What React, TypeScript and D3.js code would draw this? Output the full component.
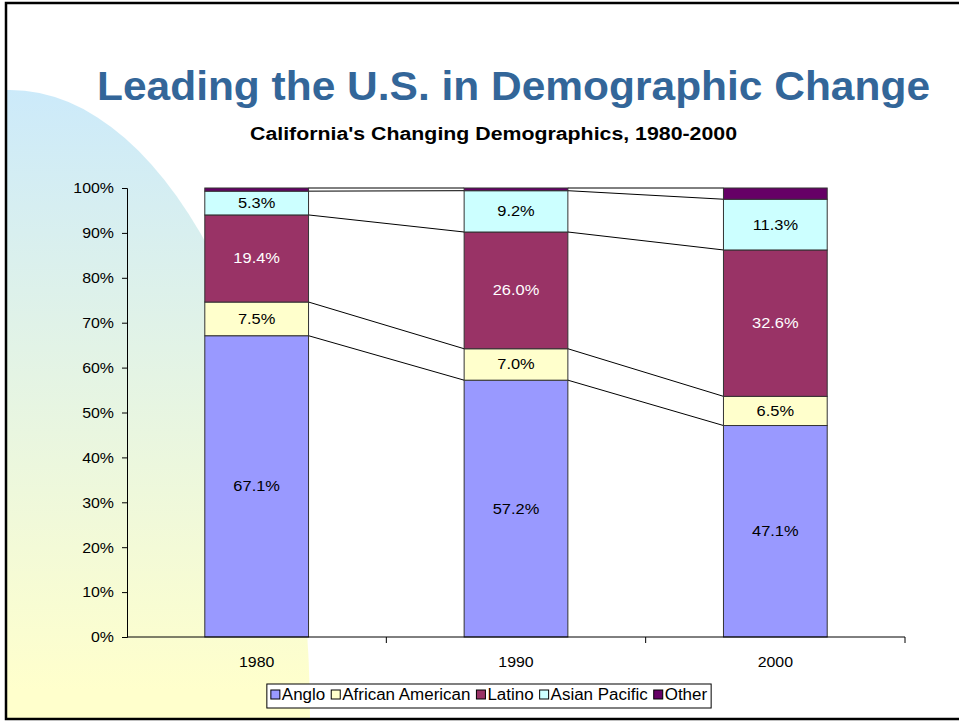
import React, { useRef, useEffect } from "react";
import * as d3 from "d3";

const years = ["1980", "1990", "2000"];
const groups = ["Anglo", "African American", "Latino", "Asian Pacific", "Other"];
const anglo = [67.1, 57.2, 47.1];
const africanAmerican = [7.5, 7.0, 6.5];
const latino = [19.4, 26.0, 32.6];
const asianPacific = [5.3, 9.2, 11.3];
const other = [0.7, 0.6, 2.5];
const yTicks = [0, 10, 20, 30, 40, 50, 60, 70, 80, 90, 100];

const colors = ["#9999FF", "#FFFFCC", "#993366", "#CCFFFF", "#660066"];
const labelColors = ["#000", "#000", "#FFF", "#000", "none"];

const W = 959;
const H = 721;
const STRETCH = 1.06;

// the reference text is a little wider than the plain font, so stretch it
function stretch(sel: d3.Selection<any, any, any, any>, k = STRETCH) {
  sel.each(function (this: SVGTextElement) {
    const l = this.getComputedTextLength();
    this.setAttribute("textLength", String(l * k));
    this.setAttribute("lengthAdjust", "spacingAndGlyphs");
  });
}

const App = () => {
  const ref = useRef<SVGSVGElement>(null);

  useEffect(() => {
    if (!ref.current) return;
    const svg = d3.select(ref.current);
    svg.selectAll("*").remove();
    const font = "'Liberation Sans', Arial, sans-serif";

    // background decoration
    const defs = svg.append("defs");
    const grad = defs
      .append("linearGradient")
      .attr("id", "bgGrad")
      .attr("gradientUnits", "userSpaceOnUse")
      .attr("x1", 0)
      .attr("y1", 90)
      .attr("x2", 0)
      .attr("y2", 690);
    grad.append("stop").attr("offset", "0%").attr("stop-color", "#CCEAFA");
    grad.append("stop").attr("offset", "100%").attr("stop-color", "#FFFFCC");
    defs
      .append("clipPath")
      .attr("id", "slideClip")
      .append("rect")
      .attr("x", 7)
      .attr("y", 4)
      .attr("width", W)
      .attr("height", 714);

    svg.append("rect").attr("width", W).attr("height", H).attr("fill", "#fff");
    svg
      .append("ellipse")
      .attr("cx", 10)
      .attr("cy", 720)
      .attr("rx", 300)
      .attr("ry", 630)
      .attr("fill", "url(#bgGrad)")
      .attr("clip-path", "url(#slideClip)");

    // slide border
    svg
      .append("rect")
      .attr("x", 6)
      .attr("y", 3)
      .attr("width", W + 10)
      .attr("height", 716)
      .attr("fill", "none")
      .attr("stroke", "#000")
      .attr("stroke-width", 2.5);

    // titles
    svg
      .append("text")
      .attr("x", 97)
      .attr("y", 100)
      .attr("textLength", 833)
      .attr("lengthAdjust", "spacingAndGlyphs")
      .attr("font-family", font)
      .attr("font-weight", "bold")
      .attr("font-size", 40)
      .attr("fill", "#336699")
      .text("Leading the U.S. in Demographic Change");

    svg
      .append("text")
      .attr("x", 250)
      .attr("y", 140)
      .attr("textLength", 487)
      .attr("lengthAdjust", "spacingAndGlyphs")
      .attr("font-family", font)
      .attr("font-weight", "bold")
      .attr("font-size", 18)
      .attr("fill", "#000")
      .text("California's Changing Demographics, 1980-2000");

    // scales
    const left = 127;
    const right = 905;
    const x = d3.scaleBand().domain(years).range([left, right]).padding(0);
    const y = d3.scaleLinear().domain([0, 100]).range([637, 188]);
    const barW = x.bandwidth() / 2.5;
    const barX = (yr: string) => (x(yr) ?? 0) + (x.bandwidth() - barW) / 2;

    const seriesValues = [anglo, africanAmerican, latino, asianPacific, other];
    const rows = years.map((yr, i) => {
      const r: any = { year: yr };
      groups.forEach((g, k) => (r[g] = seriesValues[k][i]));
      return r;
    });
    const stacked = d3.stack().keys(groups)(rows);

    // series lines
    stacked.forEach((s) => {
      for (let i = 0; i < years.length - 1; i++) {
        svg
          .append("line")
          .attr("x1", barX(years[i]) + barW)
          .attr("y1", y(s[i][1]))
          .attr("x2", barX(years[i + 1]))
          .attr("y2", y(s[i + 1][1]))
          .attr("stroke", "#000")
          .attr("stroke-width", 1);
      }
    });

    // bars
    stacked.forEach((s, k) => {
      svg
        .append("g")
        .selectAll("rect")
        .data(s)
        .enter()
        .append("rect")
        .attr("x", (d, i) => barX(years[i]))
        .attr("y", (d) => y(d[1]))
        .attr("width", barW)
        .attr("height", (d) => y(d[0]) - y(d[1]))
        .attr("fill", colors[k])
        .attr("stroke", "#333")
        .attr("stroke-width", 1);
    });

    // labels
    stacked.forEach((s, k) => {
      if (labelColors[k] === "none") return;
      const t = svg
        .append("g")
        .selectAll("text")
        .data(s)
        .enter()
        .append("text")
        .attr("x", (d, i) => barX(years[i]) + barW / 2)
        .attr("y", (d) => (y(d[0]) + y(d[1])) / 2 + 5)
        .attr("text-anchor", "middle")
        .attr("font-family", font)
        .attr("font-size", 15.5)
        .attr("fill", labelColors[k])
        .text((d, i) => `${seriesValues[k][i].toFixed(1)}%`);
      stretch(t, 1.06);
    });

    // y axis
    const yAxis = svg
      .append("g")
      .attr("transform", `translate(${left},0)`)
      .call(
        d3
          .axisLeft(y)
          .tickValues(yTicks)
          .tickSize(5)
          .tickPadding(8)
          .tickFormat((d) => `${d}%`)
      );
    yAxis.select(".domain").attr("stroke", "#000");
    const yt = yAxis
      .selectAll("text")
      .attr("font-family", font)
      .attr("font-size", 15)
      .attr("fill", "#000");
    stretch(yt);

    // x axis
    const xAxis = svg
      .append("g")
      .attr("transform", `translate(0,${y(0)})`)
      .call(d3.axisBottom(x).tickSize(0).tickPadding(0).tickFormat(() => ""));
    xAxis.select(".domain").attr("d", `M${left},0H${right}`).attr("stroke", "#000");
    years.forEach((yr) => {
      const bx = (x(yr) ?? 0) + x.bandwidth();
      svg
        .append("line")
        .attr("x1", bx)
        .attr("x2", bx)
        .attr("y1", y(0))
        .attr("y2", y(0) + 6)
        .attr("stroke", "#000");
      const t = svg
        .append("text")
        .attr("x", barX(yr) + barW / 2)
        .attr("y", 667)
        .attr("text-anchor", "middle")
        .attr("font-family", font)
        .attr("font-size", 15)
        .attr("fill", "#000")
        .text(yr);
      stretch(t);
    });

    // legend
    const lg = svg.append("g");
    const box = lg
      .append("rect")
      .attr("fill", "#fff")
      .attr("stroke", "#000")
      .attr("stroke-width", 1);
    let cx = 0;
    groups.forEach((g, k) => {
      lg.append("rect")
        .attr("x", cx)
        .attr("y", -10)
        .attr("width", 9)
        .attr("height", 9)
        .attr("fill", colors[k])
        .attr("stroke", "#000");
      const t = lg
        .append("text")
        .attr("x", cx + 11)
        .attr("y", 0)
        .attr("font-family", font)
        .attr("font-size", 16)
        .attr("fill", "#000")
        .text(g);
      const tw = (t.node() as SVGTextElement).getComputedTextLength() * STRETCH;
      stretch(t);
      cx += 11 + tw + (k < groups.length - 1 ? 6 : 0);
    });
    const pad = 4;
    box
      .attr("x", -pad)
      .attr("y", -16)
      .attr("width", cx + pad * 2)
      .attr("height", 24);
    lg.attr("transform", `translate(${489 - cx / 2},700)`);
  }, []);

  return (
    <svg
      ref={ref}
      width={W}
      height={H}
      style={{ position: "absolute", left: 0, top: 0 }}
    />
  );
};

export default App;
